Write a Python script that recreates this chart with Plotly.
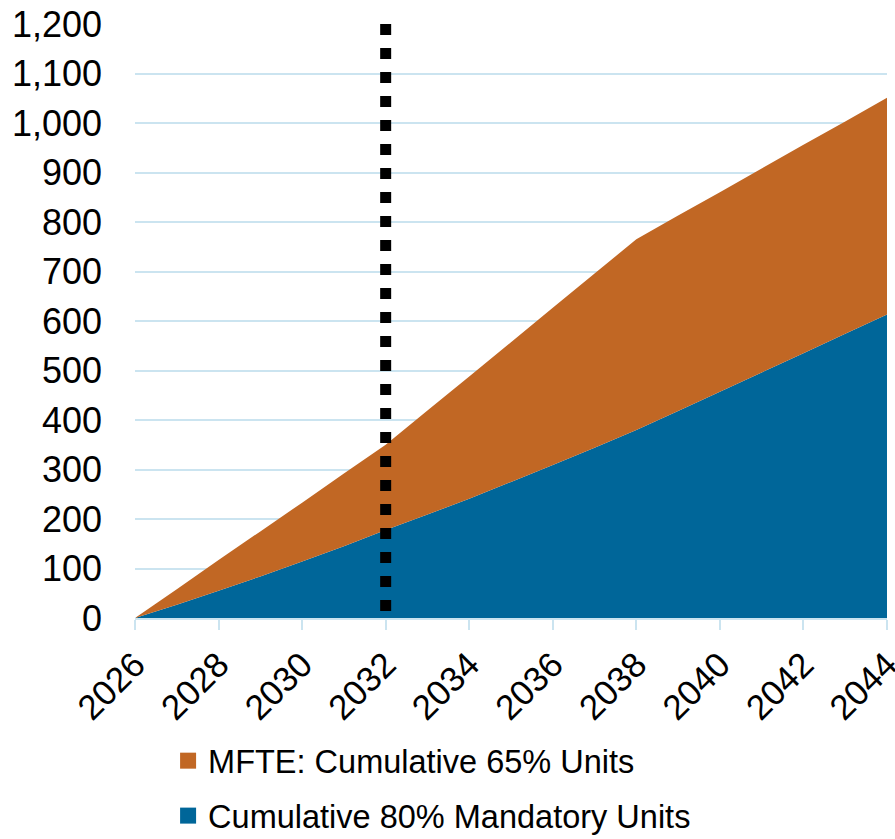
import plotly.graph_objects as go

years = list(range(2026, 2045))
mandatory_80 = [0, 27, 55, 84, 114, 145, 178, 209, 241, 275, 309, 344, 380, 418, 457, 496, 535, 574, 613]
mfte_65 = [0, 31, 62, 91, 119, 147, 172, 210, 247, 282, 318, 352, 385, 395, 403, 412, 421, 429, 438]
marker_year = 2032
y_ticks = list(range(0, 1201, 100))
x_ticks = list(range(2026, 2045, 2))

BLUE = "#006699"
ORANGE = "#C16724"
GRID = "#cbe4f0"
FONT = "Liberation Sans, Arial, sans-serif"

fig = go.Figure()
fig.add_trace(go.Scatter(x=years, y=mandatory_80, stackgroup="s", mode="none",
                         fillcolor=BLUE, showlegend=False, hoverinfo="x+y"))
fig.add_trace(go.Scatter(x=years, y=mfte_65, stackgroup="s", mode="none",
                         fillcolor=ORANGE, showlegend=False, hoverinfo="x+y"))
# vertical dotted marker line
fig.add_trace(go.Scatter(x=[marker_year, marker_year], y=[y_ticks[-1], y_ticks[0]], mode="lines",
                         line=dict(color="black", width=11, dash="11px,13px"),
                         showlegend=False, hoverinfo="skip"))
fig.add_trace(go.Scatter(x=[marker_year], y=[-14], mode="markers", cliponaxis=False,
                         marker=dict(symbol="line-ew", size=9, line=dict(color="#888888", width=1.5)),
                         showlegend=False, hoverinfo="skip"))
# legend entries (one legend box each, stacked vertically)
fig.add_trace(go.Scatter(x=[None], y=[None], mode="markers", name="MFTE: Cumulative 65% Units",
                         legend="legend", marker=dict(symbol="square", size=16, color=ORANGE)))
fig.add_trace(go.Scatter(x=[None], y=[None], mode="markers", name="Cumulative 80% Mandatory Units",
                         legend="legend2", marker=dict(symbol="square", size=16, color=BLUE)))

leg_common = dict(orientation="v", xref="paper", yref="container", x=0.044, xanchor="left",
                  yanchor="top", font=dict(size=32.5), itemsizing="trace",
                  bgcolor="rgba(0,0,0,0)")

fig.update_layout(
    width=895, height=839,
    margin=dict(l=135, r=8, t=24, b=221, autoexpand=False),
    paper_bgcolor="white", plot_bgcolor="white",
    font=dict(family=FONT, size=32, color="black"),
    showlegend=True,
    legend=dict(leg_common, y=0.1263),
    legend2=dict(leg_common, y=0.0608),
    xaxis=dict(range=[2026, 2044], tickvals=x_ticks, tickangle=-45, automargin=False,
               ticks="outside", ticklen=10, tickwidth=2, tickcolor=GRID,
               showgrid=False, zeroline=False, showline=True, linecolor=GRID, linewidth=2,
               ticklabeloverflow="allow", tickfont=dict(size=35)),
    yaxis=dict(range=[0, 1200], tickvals=y_ticks, tickformat=",d", automargin=False,
               showgrid=True, gridcolor=GRID, gridwidth=2, zeroline=False,
               ticks="", ticklabelstandoff=32, tickfont=dict(size=36)),
)

fig.write_html("out.html")
